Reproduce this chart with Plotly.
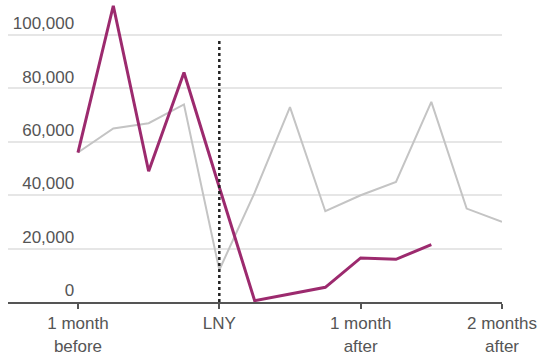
import plotly.graph_objects as go

# Weeks relative to Lunar New Year (4 weeks per month)
weeks = [-4, -3, -2, -1, 0, 1, 2, 3, 4, 5, 6, 7, 8]
prior_year = [56000, 65000, 67000, 74000, 12000, 41000, 73000, 34000, 40000, 45000, 75000, 35000, 30000]
this_year = [56000, 111000, 49000, 86000, 43000, 500, 3000, 5500, 16500, 16000, 21500]

tick_vals = [-4, 0, 4, 8]
tick_text = ["1 month<br>before", "LNY", "1 month<br>after", "2 months<br>after"]
y_ticks = [0, 20000, 40000, 60000, 80000, 100000]
y_text = ["0", "20,000", "40,000", "60,000", "80,000", "100,000"]

FONT = "Liberation Sans, Arial, sans-serif"

fig = go.Figure()
fig.add_trace(go.Scatter(
    x=weeks, y=prior_year, mode="lines",
    line=dict(color="#c4c4c4", width=2), hoverinfo="skip"))
fig.add_trace(go.Scatter(
    x=weeks[:len(this_year)], y=this_year, mode="lines",
    line=dict(color="#9c2a6e", width=3), hoverinfo="skip"))

# Dotted marker for Lunar New Year
fig.add_shape(type="line", xref="x", yref="y", x0=0, x1=0, y0=0, y1=98000,
              line=dict(color="#222222", width=2.5, dash="dot"), layer="above")

fig.update_layout(
    width=539, height=358,
    margin=dict(l=8, r=37, t=2, b=56),
    paper_bgcolor="white", plot_bgcolor="white",
    showlegend=False,
    font=dict(family=FONT, size=17, color="#555555"),
    xaxis=dict(
        range=[-5.98, 8.0], tickvals=tick_vals, ticktext=tick_text,
        showgrid=False, zeroline=False,
        showline=True, linecolor="#555555", linewidth=2,
        ticks="outside", ticklen=5, tickcolor="#555555", tickwidth=1.5,
        tickfont=dict(size=17, color="#555555"),
    ),
    yaxis=dict(
        range=[0, 112400], tickvals=y_ticks, ticktext=y_text,
        anchor="free", position=0.134,
        showgrid=True, gridcolor="#e6e6e6", gridwidth=1.5,
        zeroline=False, showline=False, ticks="",
        ticklabelposition="outside top",
        tickfont=dict(size=17, color="#555555"),
    ),
)

fig.write_html("out.html")
